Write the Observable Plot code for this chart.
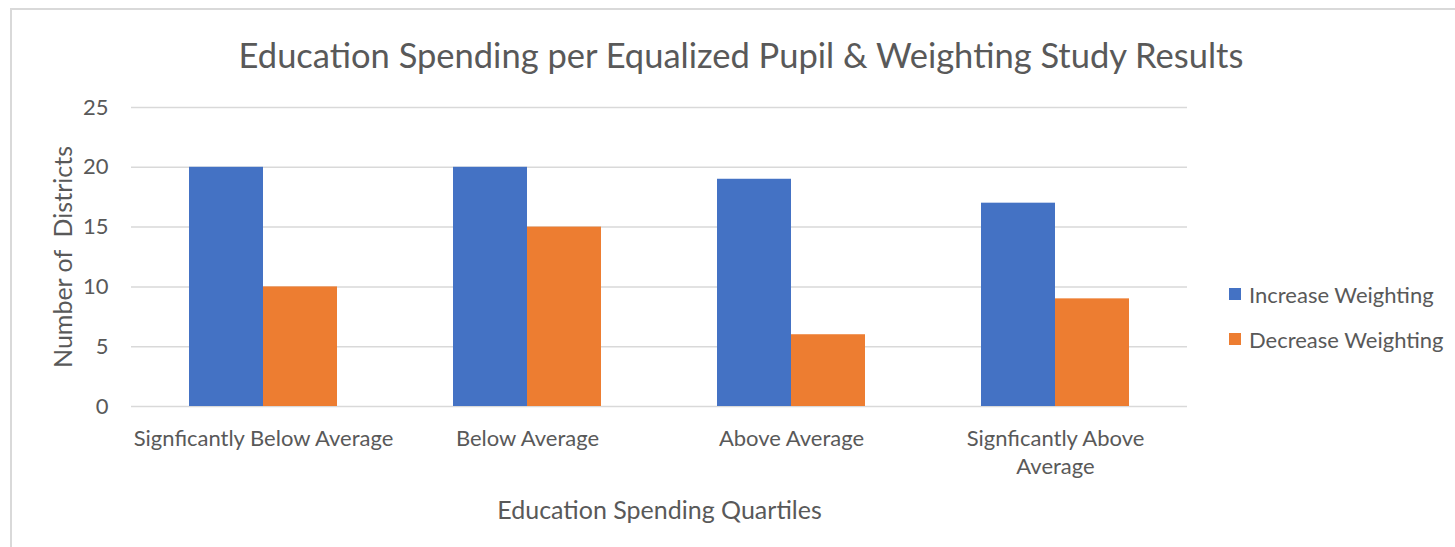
<!DOCTYPE html>
<html>
<head>
<meta charset="utf-8">
<script src="https://cdn.jsdelivr.net/npm/d3@7"></script>
<script src="https://cdn.jsdelivr.net/npm/@observablehq/plot@0.6"></script>
<style>
  html, body { margin: 0; padding: 0; background: #fff; }
  #wrap { position: relative; width: 1455px; height: 547px; overflow: hidden; font-family: Lato, sans-serif; color: #595959; }
  #border { position: absolute; left: 10px; top: 8px; width: 1500px; height: 600px; border-left: 2px solid #d9d9d9; border-top: 2px solid #d9d9d9; }
  #title { position: absolute; left: 0; width: 1482px; top: 33px; height: 44px; line-height: 44px; text-align: center; font-size: 34.5px; white-space: nowrap; }
  #chart { position: absolute; left: 0; top: 0; }
  #legend { position: absolute; left: 1229px; top: 280px; font-size: 22px; }
  .item { display: flex; align-items: center; height: 28px; margin-bottom: 17px; white-space: nowrap; }
  .sw { width: 12px; height: 12px; margin-right: 8px; }
  svg text { white-space: pre; }
</style>
</head>
<body>
<div id="wrap">
  <div id="border"></div>
  <div id="chart"></div>
  <div id="title"></div>
  <div id="legend"></div>
</div>
<script>
const titleText = "Education Spending per Equalized Pupil & Weighting Study Results";
const categories = ["Signficantly Below Average", "Below Average", "Above Average", "Signficantly Above Average"];
const series = ["Increase Weighting", "Decrease Weighting"];
const colors = ["#4472c4", "#ed7d31"];
const increase = [20, 20, 19, 17];
const decrease = [10, 15, 6, 9];
const yTicks = [0, 5, 10, 15, 20, 25];
const yLabel = "Number of  Districts";
const xLabel = "Education Spending Quartiles";

const data = categories.flatMap((c, i) => [
  {category: c, series: series[0], value: increase[i]},
  {category: c, series: series[1], value: decrease[i]}
]);

const wrapLabel = d => d === "Signficantly Above Average" ? "Signficantly Above\nAverage" : d;

const chart = Plot.plot({
  width: 1455,
  height: 547,
  marginTop: 107,
  marginBottom: 141,
  marginLeft: 130,
  marginRight: 267,
  style: {fontFamily: "Lato, sans-serif", fontSize: "22px", color: "#595959", background: "transparent"},
  fx: {domain: categories, paddingInner: 0, paddingOuter: 0},
  x: {domain: series, paddingInner: 0, paddingOuter: 0.763, axis: null},
  y: {domain: [0, 25]},
  color: {domain: series, range: colors},
  marks: [
    Plot.gridY(yTicks, {stroke: "#d9d9d9", strokeOpacity: 1, strokeWidth: 1.5}),
    Plot.barY(data, {fx: "category", x: "series", y: "value", fill: "series"}),
    Plot.axisY(yTicks, {tickSize: 0, tickPadding: 23, fontSize: 22, fill: "#595959", label: null}),
    Plot.axisY([], {fontSize: 25, fill: "#595959",
      label: yLabel, labelAnchor: "center", labelOffset: 77, labelArrow: "none"}),
    Plot.axisFx({anchor: "bottom", tickSize: 0, tickPadding: 19, fontSize: 22, fill: "#595959", lineHeight: 1.28,
      tickFormat: wrapLabel, label: null}),
    Plot.axisFx([], {anchor: "bottom", fontSize: 25, fill: "#595959",
      label: xLabel, labelAnchor: "center", labelOffset: 112, labelArrow: "none"})
  ]
});
document.getElementById("chart").appendChild(chart);
document.getElementById("title").textContent = titleText;

const legend = document.getElementById("legend");
series.forEach((s, i) => {
  const row = document.createElement("div");
  row.className = "item";
  const sw = document.createElement("div");
  sw.className = "sw";
  sw.style.background = colors[i];
  const t = document.createElement("span");
  t.textContent = s;
  row.appendChild(sw);
  row.appendChild(t);
  legend.appendChild(row);
});
</script>
</body>
</html>
